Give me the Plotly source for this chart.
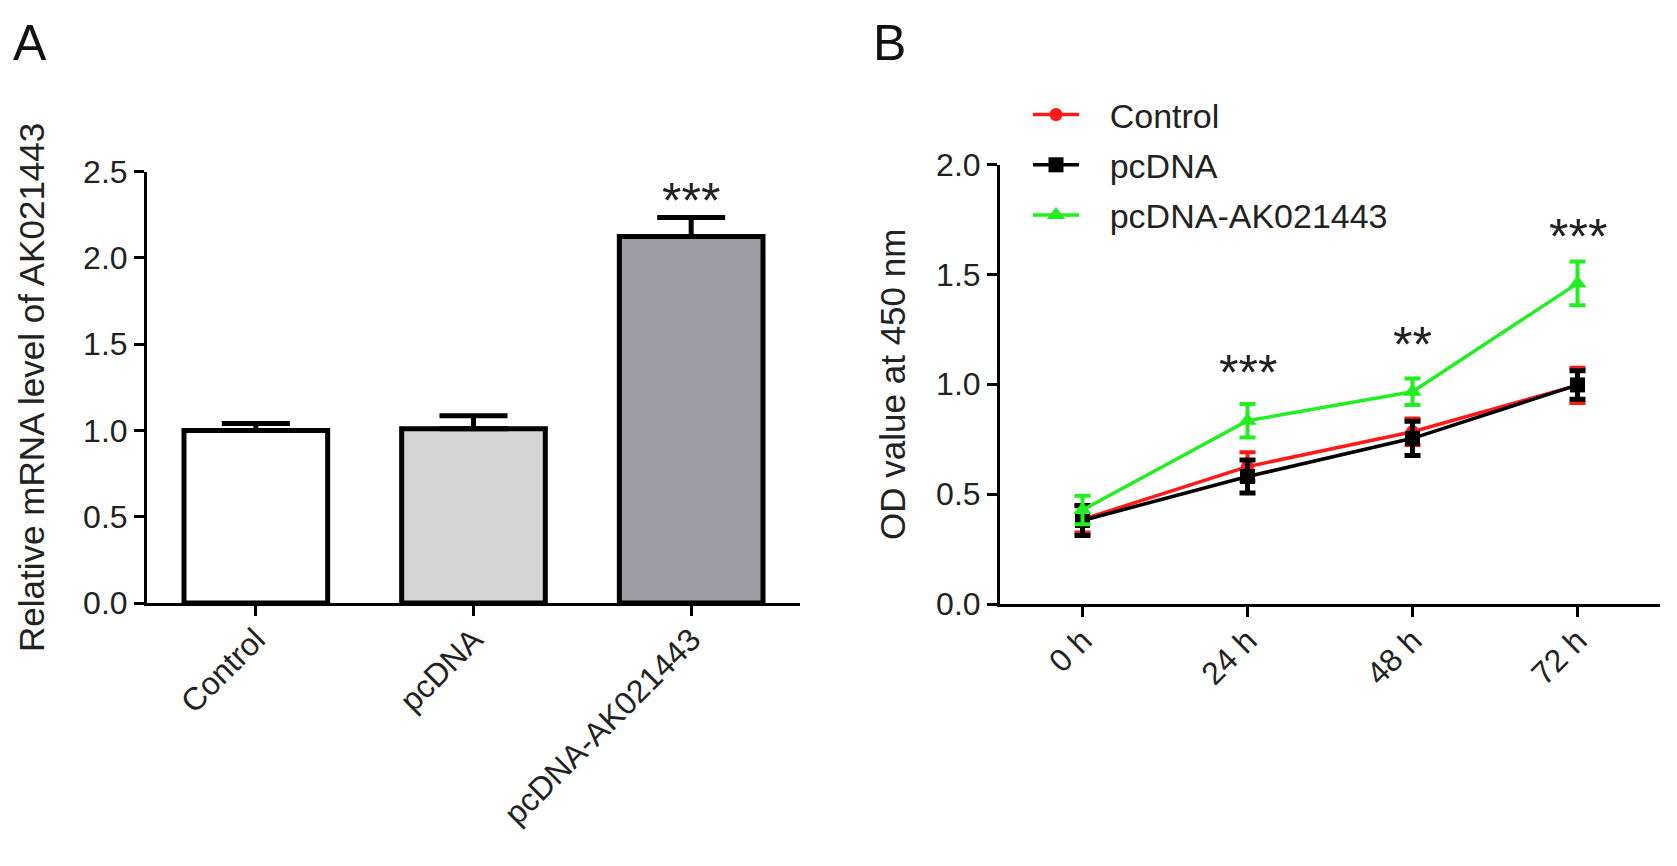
import plotly.graph_objects as go

# panel A - relative mRNA level
groupsA = ['Control', 'pcDNA', 'pcDNA-AK021443']
levelA = [1.0, 1.01, 2.125]
errA = [0.04, 0.075, 0.11]
colorsA = ['#ffffff', '#d4d4d4', '#9d9ca4']
starsA = ['', '', '***']
starsA_y = [None, None, 2.33]

# panel B - OD value at 450 nm
timesB = ['0 h', '24 h', '48 h', '72 h']
seriesB = ['Control', 'pcDNA', 'pcDNA-AK021443']
odControl = [0.385, 0.625, 0.784, 0.995]
errControl = [0.06, 0.065, 0.06, 0.08]
odPcdna = [0.38, 0.58, 0.754, 0.997]
errPcdna = [0.068, 0.075, 0.078, 0.065]
odAk = [0.428, 0.834, 0.966, 1.459]
errAk = [0.065, 0.076, 0.06, 0.1]
starsB = ['', '***', '**', '***']
starsB_y = [None, 1.05, 1.18, 1.67]

FONT = 'Liberation Sans, Arial, sans-serif'
W, H = 1677, 866
OFF = 8  # page margin of the html body


def px(v):
    return (v - OFF) / W


def py(v):
    return 1 - (v - OFF) / H


fig = go.Figure()

fig.add_trace(go.Bar(
    x=groupsA, y=levelA, width=0.66,
    marker=dict(color=colorsA, line=dict(color='black', width=5)),
    error_y=dict(type='data', symmetric=False, array=errA, arrayminus=[0] * len(errA),
                 color='black', thickness=5, width=34),
    showlegend=False, xaxis='x', yaxis='y'))

styles = [
    (odControl, errControl, '#ff1a1a', 'circle', 13, 4),
    (odPcdna, errPcdna, '#000000', 'square', 15, 5),
    (odAk, errAk, '#22ee22', 'triangle-up', 16, 4),
]
for name, (vals, errs, col, sym, size, thick) in zip(seriesB, styles):
    fig.add_trace(go.Scatter(
        x=timesB, y=vals, name='\u00a0\u00a0\u2009' + name, mode='lines+markers',
        line=dict(color=col, width=3.5),
        marker=dict(symbol=sym, size=size, color=col),
        error_y=dict(type='data', array=errs, color=col, thickness=thick, width=8),
        legendgroup=name, xaxis='x2', yaxis='y2'))

axis_common = dict(showline=True, linecolor='black', linewidth=3, ticks='outside',
                   ticklen=10, tickwidth=3, tickcolor='black', showgrid=False, zeroline=False,
                   automargin=False,
                   tickfont=dict(size=32, color='#222222', family=FONT))

fig.update_layout(
    width=W, height=H, margin=dict(l=0, r=0, t=0, b=0),
    paper_bgcolor='white', plot_bgcolor='white',
    font=dict(family=FONT, color='#222222'),
    xaxis=dict(domain=[px(147), px(800)], range=[-0.5, 2.5], tickangle=-45,
               ticklabelstandoff=-8, anchor='y', **axis_common),
    yaxis=dict(domain=[py(603), py(171.7)], range=[0, 2.5], dtick=0.5, tickformat='.1f',
               anchor='x', title=dict(text='Relative mRNA level of AK021443', standoff=28,
                                      font=dict(size=35, color='#222222')),
               **axis_common),
    xaxis2=dict(domain=[px(1000), px(1660)], range=[-0.5, 3.5], tickangle=-45,
                ticklabelstandoff=-8, anchor='y2', **axis_common),
    yaxis2=dict(domain=[py(604), py(164.5)], range=[0, 2.0], dtick=0.5, tickformat='.1f',
                anchor='x2', title=dict(text='OD value at 450 nm', standoff=20,
                                        font=dict(size=35, color='#222222')),
                **axis_common),
    legend=dict(x=px(1028), y=py(86), xanchor='left', yanchor='top',
                font=dict(size=34, color='#222222'), bgcolor='rgba(0,0,0,0)',
                traceorder='grouped', tracegroupgap=3, itemwidth=46),
)

for g, s, sy in zip(groupsA, starsA, starsA_y):
    if s:
        fig.add_annotation(x=g, y=sy, xref='x', yref='y', text=s, showarrow=False,
                           font=dict(size=50, color='#222222'))
for t, s, sy in zip(timesB, starsB, starsB_y):
    if s:
        fig.add_annotation(x=t, y=sy, xref='x2', yref='y2', text=s, showarrow=False,
                           font=dict(size=50, color='#222222'))

fig.add_annotation(x=px(30), y=py(43), xref='paper', yref='paper', text='A',
                   xanchor='center', yanchor='middle', showarrow=False,
                   font=dict(size=50, color='#111111'))
fig.add_annotation(x=px(889), y=py(43), xref='paper', yref='paper', text='B',
                   xanchor='center', yanchor='middle', showarrow=False,
                   font=dict(size=50, color='#111111'))

fig.write_html("out.html")
